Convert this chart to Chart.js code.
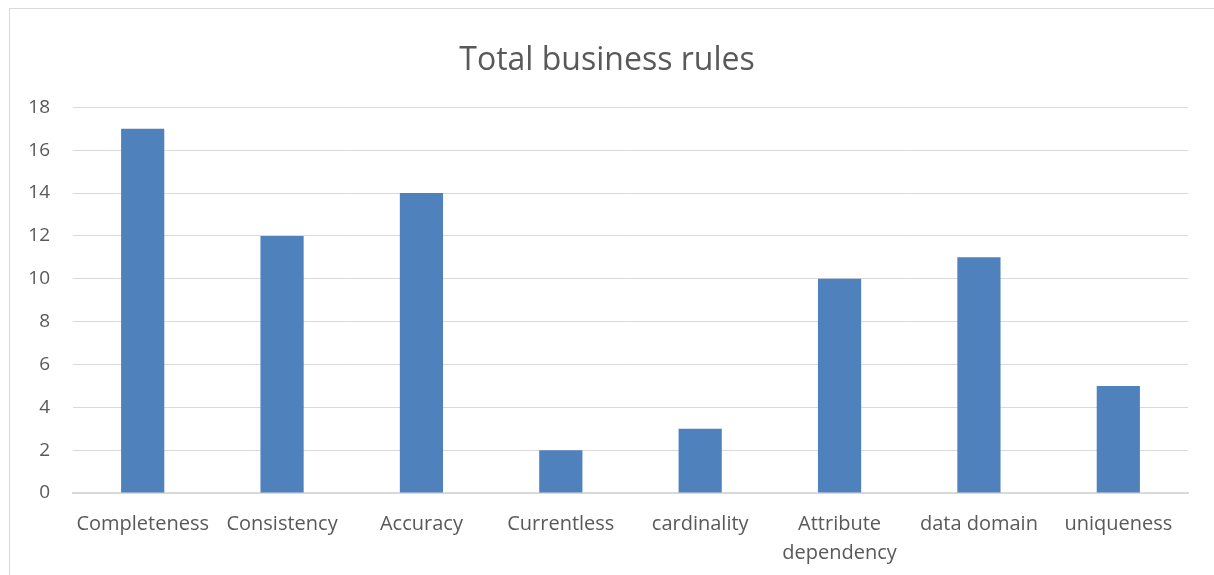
<!DOCTYPE html>
<html>
<head>
<meta charset="utf-8">
<script src="https://cdn.jsdelivr.net/npm/chart.js@4/dist/chart.umd.min.js"></script>
<style>
  html, body { margin: 0; padding: 0; background: #fff; overflow: hidden; }
  #frame { position: absolute; left: 9px; top: 8px; width: 1300px; height: 700px; border: 1px solid #d9d9d9; }
  #wrap { position: absolute; left: 0; top: 0; width: 1214px; height: 575px; }
</style>
</head>
<body>
<div id="frame"></div>
<div id="wrap"><canvas id="chart"></canvas></div>
<script>
const categories = ['Completeness', 'Consistency', 'Accuracy', 'Currentless', 'cardinality', ['Attribute', 'dependency'], 'data domain', 'uniqueness'];
const totals = [17, 12, 14, 2, 3, 10, 11, 5];
const yMax = 18;
const yStep = 2;

const ctx = document.getElementById('chart').getContext('2d');
new Chart(ctx, {
  type: 'bar',
  data: {
    labels: categories,
    datasets: [{
      label: 'Total business rules',
      data: totals,
      backgroundColor: '#4f81bd',
      barPercentage: 0.31,
      categoryPercentage: 1
    }]
  },
  options: {
    responsive: true,
    maintainAspectRatio: false,
    animation: false,
    layout: { padding: { left: 26, right: 26, top: 0, bottom: 0 } },
    plugins: {
      legend: { display: false },
      tooltip: { enabled: false },
      title: {
        display: true,
        text: 'Total business rules',
        color: '#595959',
        font: { family: 'Open Sans', size: 32, weight: 'normal', lineHeight: 1.2 },
        padding: { top: 42, bottom: 27 }
      }
    },
    scales: {
      y: {
        min: 0,
        max: yMax,
        ticks: { stepSize: yStep, color: '#595959', padding: 23, font: { family: 'Open Sans', size: 19 } },
        grid: { color: '#d9d9d9', lineWidth: 1, drawTicks: false },
        border: { display: false },
        afterFit: (scale) => { scale.width = 47; }
      },
      x: {
        ticks: { color: '#595959', padding: 17, maxRotation: 0, autoSkip: false, font: { family: 'Open Sans', size: 20, lineHeight: 1.45 } },
        grid: { display: false, drawTicks: false },
        border: { display: true, color: '#d9d9d9', width: 2 },
        afterFit: (scale) => { scale.height = 82; }
      }
    }
  }
});
</script>
</body>
</html>
